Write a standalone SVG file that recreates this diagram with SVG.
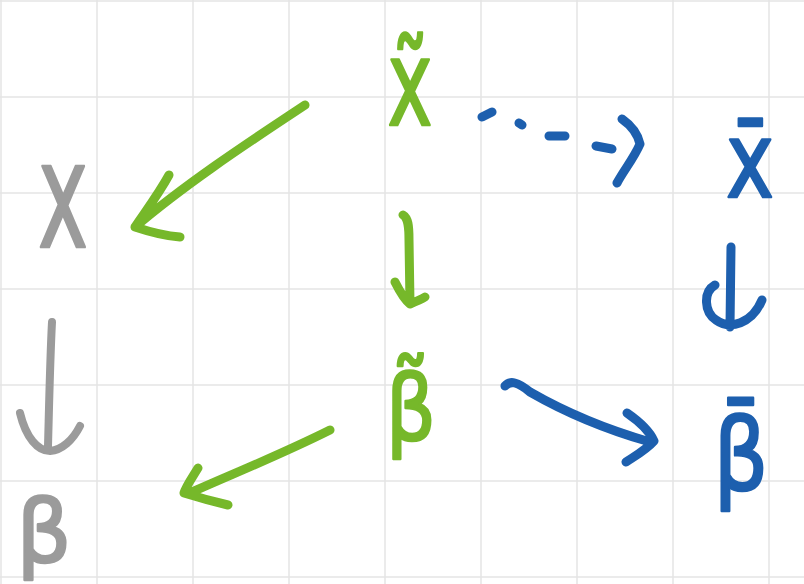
<svg xmlns="http://www.w3.org/2000/svg" width="804" height="584" viewBox="0 0 804 584">
<style>
.grid line{stroke:#e4e4e4;stroke-width:1.5}
.lbl{font-family:"DejaVu Sans","Liberation Sans",sans-serif;text-anchor:middle;stroke-width:2.5;stroke-linejoin:round}
.gray{fill:#9b9b9b;stroke:#9b9b9b}
.green{fill:#76b82a;stroke:#76b82a}
.blue{fill:#1d5fae;stroke:#1d5fae}
.c path{fill:none;stroke-linecap:round;stroke-linejoin:round}
.cg{stroke:#9b9b9b;stroke-width:8}
.cgr{stroke:#76b82a;stroke-width:9}
.cb{stroke:#1d5fae;stroke-width:9}
</style>
<rect width="804" height="584" fill="#ffffff"/>
<g class="grid">
<line x1="1" y1="0" x2="1" y2="584"/><line x1="97" y1="0" x2="97" y2="584"/><line x1="193" y1="0" x2="193" y2="584"/><line x1="289" y1="0" x2="289" y2="584"/><line x1="385" y1="0" x2="385" y2="584"/><line x1="481" y1="0" x2="481" y2="584"/><line x1="577" y1="0" x2="577" y2="584"/><line x1="673" y1="0" x2="673" y2="584"/><line x1="769" y1="0" x2="769" y2="584"/>
<line x1="0" y1="1" x2="804" y2="1"/><line x1="0" y1="97" x2="804" y2="97"/><line x1="0" y1="193" x2="804" y2="193"/><line x1="0" y1="289" x2="804" y2="289"/><line x1="0" y1="385" x2="804" y2="385"/><line x1="0" y1="481" x2="804" y2="481"/><line x1="0" y1="577" x2="804" y2="577"/>
</g>
<g id="x"><text class="lbl gray" x="63" y="247" font-size="148" textLength="50" lengthAdjust="spacingAndGlyphs">x</text></g>
<g id="beta"><text class="lbl gray" x="44" y="562" font-size="88" textLength="55" lengthAdjust="spacingAndGlyphs">β</text></g>
<g id="x-tilde"><text class="lbl green" x="410" y="125" font-size="120" textLength="45" lengthAdjust="spacingAndGlyphs">x̃</text></g>
<g id="beta-tilde"><text class="lbl green" x="411" y="440" font-size="90" textLength="50" lengthAdjust="spacingAndGlyphs">β̃</text></g>
<g id="x-bar"><text class="lbl blue" x="750" y="197" font-size="105" textLength="48" lengthAdjust="spacingAndGlyphs">x̄</text></g>
<g id="beta-bar"><text class="lbl blue" x="741" y="490" font-size="100" textLength="55" lengthAdjust="spacingAndGlyphs">β̄</text></g>
<g id="connectors" class="c">
<path class="cg" d="M52 322 C50 360 49 410 48 446 M20 413 C26 438 38 451 50 451 C62 450 73 440 80 426"/>
<path class="cgr" d="M305 105 C260 135 190 180 135 227 M169 175 C158 195 145 212 135 227 C150 232 165 236 180 237"/>
<path class="cgr" d="M403 215 C408 218 409 225 409 240 L410 303 M395 282 C400 292 405 300 410 304 C415 302 420 300 425 297"/>
<path class="cgr" d="M330 430 C280 455 230 475 190 493 M198 468 C192 478 186 486 184 493 C200 498 215 502 228 505"/>
<path class="cb" d="M482 117 L492 112 M519 123 L522 125 M549 136 L565 136 M596 146 L612 149 M622 119 C632 126 638 135 640 144 C634 158 624 170 617 183"/>
<path class="cb" d="M731 247 L730 327 M715 285 C703 292 704 312 716 320 C730 330 752 324 762 300"/>
<path class="cb" d="M505 386 C510 380 518 382 530 392 C570 415 615 432 650 442 M627 413 C640 422 650 432 654 441 C646 450 635 456 626 462"/>
</g>
</svg>
